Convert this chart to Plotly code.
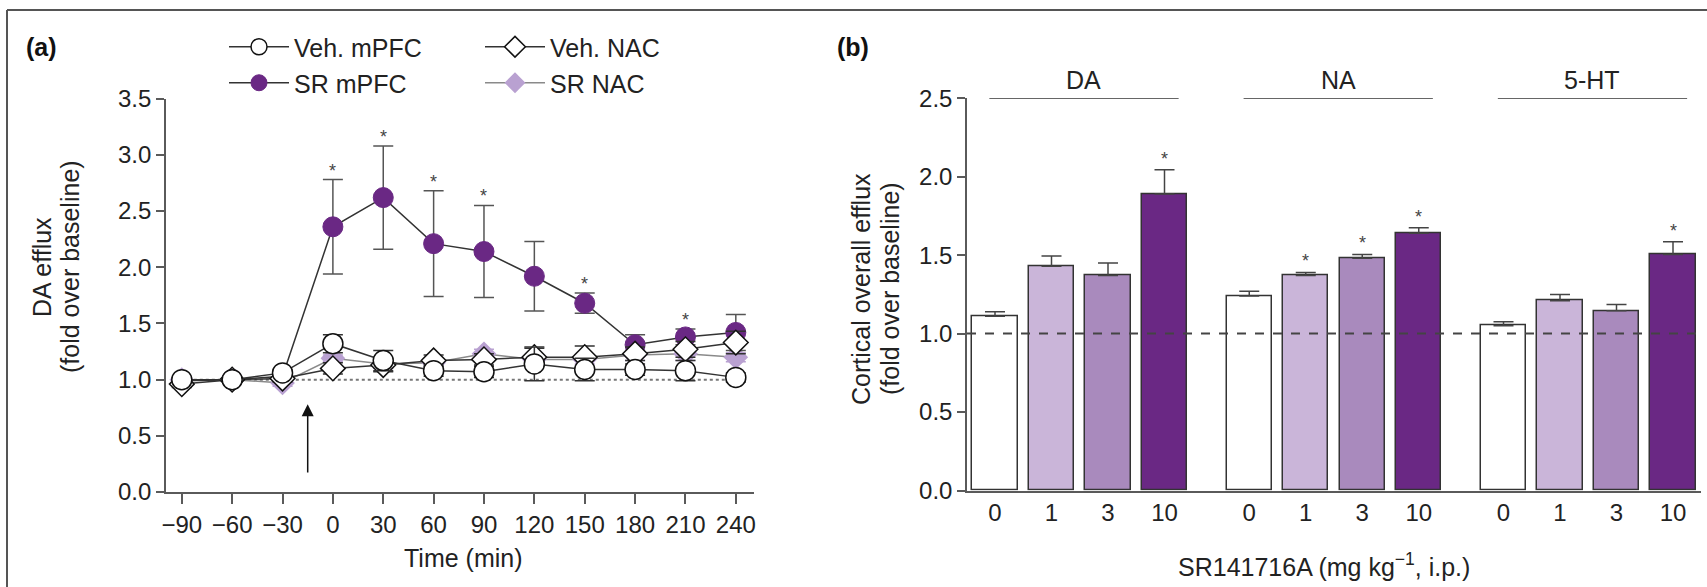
import plotly.graph_objects as go

# ---------------- data: panel (a) ----------------
times = [-90, -60, -30, 0, 30, 60, 90, 120, 150, 180, 210, 240]
veh_mpfc = [1.00, 1.00, 1.06, 1.32, 1.17, 1.08, 1.07, 1.14, 1.09, 1.09, 1.08, 1.02]
veh_mpfc_err = [0.02, 0.02, 0.03, 0.08, 0.09, 0.05, 0.05, 0.15, 0.10, 0.05, 0.09, 0.04]
veh_nac = [0.96, 1.00, 1.01, 1.10, 1.13, 1.17, 1.18, 1.20, 1.20, 1.23, 1.27, 1.33]
veh_nac_err = [0.03, 0.02, 0.03, 0.05, 0.06, 0.05, 0.05, 0.08, 0.10, 0.06, 0.07, 0.10]
sr_mpfc = [0.99, 1.00, 1.03, 2.36, 2.62, 2.21, 2.14, 1.92, 1.68, 1.31, 1.38, 1.42]
sr_mpfc_err = [0.02, 0.02, 0.03, 0.42, 0.46, 0.47, 0.41, 0.31, 0.09, 0.09, 0.07, 0.16]
sr_nac = [1.00, 1.00, 0.97, 1.19, 1.14, 1.15, 1.23, 1.18, 1.18, 1.22, 1.23, 1.20]
sr_nac_err = [0.02, 0.02, 0.03, 0.03, 0.04, 0.04, 0.04, 0.04, 0.04, 0.05, 0.06, 0.04]
sr_mpfc_sig = [False, False, False, True, True, True, True, False, True, False, True, False]
injection_time = -15
a_yticks = [0.0, 0.5, 1.0, 1.5, 2.0, 2.5, 3.0, 3.5]

# ---------------- data: panel (b) ----------------
doses = ["0", "1", "3", "10"]
transmitters = ["DA", "NA", "5-HT"]
da_vals = [1.11, 1.43, 1.37, 1.89]
da_err = [0.03, 0.065, 0.08, 0.155]
na_vals = [1.24, 1.37, 1.48, 1.64]
na_err = [0.03, 0.02, 0.025, 0.035]
ht_vals = [1.05, 1.21, 1.145, 1.505]
ht_err = [0.025, 0.04, 0.04, 0.08]
da_sig = [False, False, False, True]
na_sig = [False, True, True, True]
ht_sig = [False, False, False, True]
b_yticks = [0.0, 0.5, 1.0, 1.5, 2.0, 2.5]

W, H = 1707, 587
FONT = "Liberation Sans, Arial, sans-serif"
PURPLE = "#6a2884"
LAVENDER = "#b9a1d1"
bar_colors = ["#ffffff", "#cab5d9", "#a98abd", "#6a2884"]
AXC = "#5a5a5a"
TXT = "#222222"


def px(x):
    return x / W


def py(y):
    return 1 - y / H


fig = go.Figure()

# ---------------- panel (a) traces ----------------
series = [
    ("SR NAC", sr_nac, sr_nac_err, "diamond", LAVENDER, LAVENDER, 0, "#8a8a8a", LAVENDER, "legend2"),
    ("SR mPFC", sr_mpfc, sr_mpfc_err, "circle", PURPLE, PURPLE, 1, "#333333", "#555555", "legend2"),
    ("Veh. NAC", veh_nac, veh_nac_err, "diamond", "#ffffff", "#111111", 1.5, "#333333", "#333333", "legend"),
    ("Veh. mPFC", veh_mpfc, veh_mpfc_err, "circle", "#ffffff", "#111111", 1.5, "#333333", "#333333", "legend"),
]
legend_rank = {"Veh. mPFC": 1, "Veh. NAC": 2, "SR mPFC": 3, "SR NAC": 4}
for name, vals, errs, sym, fill, edge, ew, lc, ec, lg in series:
    fig.add_trace(go.Scatter(
        x=times, y=vals, name=name, mode="lines+markers",
        line=dict(color=lc, width=1.5),
        marker=dict(symbol=sym, size=20 if sym == "circle" else 19, color=fill,
                    line=dict(color=edge, width=ew)),
        error_y=dict(type="data", array=errs, visible=True, color=ec, thickness=1.5, width=10),
        xaxis="x", yaxis="y", legend=lg, legendrank=legend_rank[name],
    ))

# ---------------- panel (b) traces ----------------
group_vals = [da_vals, na_vals, ht_vals]
group_err = [da_err, na_err, ht_err]
group_sig = [da_sig, na_sig, ht_sig]
GROUP_STEP = 4.5
for i, d in enumerate(doses):
    xs = [g * GROUP_STEP + i for g in range(len(transmitters))]
    ys = [group_vals[g][i] for g in range(len(transmitters))]
    es = [group_err[g][i] for g in range(len(transmitters))]
    fig.add_trace(go.Bar(
        x=xs, y=ys, width=0.805, name=d + " mg/kg", showlegend=False,
        marker=dict(color=bar_colors[i], line=dict(color="#333333", width=1.5)),
        error_y=dict(type="data", symmetric=False, array=es, arrayminus=[0] * len(es),
                     color="#444444", thickness=1.5, width=10),
        xaxis="x2", yaxis="y2",
    ))

annotations = []
shapes = []

# stars panel (a)
for t, v, e, s in zip(times, sr_mpfc, sr_mpfc_err, sr_mpfc_sig):
    if s:
        annotations.append(dict(x=t, y=v + e, xref="x", yref="y", text="*", showarrow=False,
                                yanchor="middle", yshift=9, font=dict(size=18, color="#444444", family=FONT)))
# stars panel (b)
for g in range(len(transmitters)):
    for i in range(len(doses)):
        if group_sig[g][i]:
            annotations.append(dict(x=g * GROUP_STEP + i, y=group_vals[g][i] + group_err[g][i],
                                    xref="x2", yref="y2", text="*", showarrow=False,
                                    yanchor="middle", yshift=11,
                                    font=dict(size=18, color="#444444", family=FONT)))

# group labels and lines panel (b)
for g, name in enumerate(transmitters):
    x0 = g * GROUP_STEP - 0.1
    x1 = g * GROUP_STEP + 3.25
    shapes.append(dict(type="line", xref="x2", yref="y2", x0=x0, x1=x1, y0=2.5, y1=2.5,
                       line=dict(color="#333333", width=1.5)))
    annotations.append(dict(x=(x0 + x1) / 2, y=2.5, xref="x2", yref="y2", text=name, showarrow=False,
                            yanchor="bottom", yshift=2, font=dict(size=25, color=TXT, family=FONT)))

# baseline lines
shapes.append(dict(type="line", xref="x", yref="y", x0=times[0], x1=times[-1], y0=1, y1=1,
                   line=dict(color="#777777", width=2, dash="dot"), layer="below"))
shapes.append(dict(type="line", xref="x2 domain", yref="y2", x0=0, x1=1, y0=1, y1=1,
                   line=dict(color="#444444", width=2, dash="dash"), layer="above"))

# injection arrow panel (a)
annotations.append(dict(x=injection_time, y=0.78, ax=injection_time, ay=0.16, xref="x", yref="y",
                        axref="x", ayref="y", text="", showarrow=True, arrowhead=2, arrowsize=1.6,
                        arrowwidth=1.5, arrowcolor="#111111"))

# axis titles
TF = dict(size=25, color=TXT, family=FONT)
annotations += [
    dict(x=px(42), y=py(267), xref="paper", yref="paper", text="DA efflux", textangle=-90,
         showarrow=False, font=TF, xanchor="center", yanchor="middle"),
    dict(x=px(70), y=py(267), xref="paper", yref="paper", text="(fold over baseline)", textangle=-90,
         showarrow=False, font=TF, xanchor="center", yanchor="middle"),
    dict(x=px(861), y=py(289), xref="paper", yref="paper", text="Cortical overall efflux", textangle=-90,
         showarrow=False, font=TF, xanchor="center", yanchor="middle"),
    dict(x=px(890), y=py(289), xref="paper", yref="paper", text="(fold over baseline)", textangle=-90,
         showarrow=False, font=TF, xanchor="center", yanchor="middle"),
    dict(x=px(464), y=py(558), xref="paper", yref="paper", text="Time (min)",
         showarrow=False, font=TF, xanchor="center", yanchor="middle"),
    dict(x=px(1324), y=py(565), xref="paper", yref="paper", text="SR141716A (mg kg<sup>−1</sup>, i.p.)",
         showarrow=False, font=TF, xanchor="center", yanchor="middle"),
    dict(x=px(24), y=py(47), xref="paper", yref="paper", text="<b>(a)</b>",
         showarrow=False, font=dict(size=25, color="#111111", family=FONT), xanchor="left", yanchor="middle"),
    dict(x=px(835), y=py(47), xref="paper", yref="paper", text="<b>(b)</b>",
         showarrow=False, font=dict(size=25, color="#111111", family=FONT), xanchor="left", yanchor="middle"),
]

# outer frame (top and left)
shapes += [
    dict(type="line", xref="paper", yref="paper", x0=px(7), x1=1, y0=py(10), y1=py(10),
         line=dict(color="#555555", width=2)),
    dict(type="line", xref="paper", yref="paper", x0=px(7), x1=px(7), y0=0, y1=py(10),
         line=dict(color="#555555", width=2)),
]

tickfont = dict(size=24, color=TXT, family=FONT)
xmin_a = times[0] - (181.8 - 165.8) / 1.68
xmax_a = times[-1] + (754 - 735.8) / 1.68

fig.update_layout(
    width=W, height=H,
    margin=dict(l=0, r=0, t=0, b=0, pad=0, autoexpand=False),
    paper_bgcolor="white", plot_bgcolor="white",
    font=dict(family=FONT, color=TXT),
    bargap=0,
    xaxis=dict(domain=[px(165.8), px(754)], range=[xmin_a, xmax_a], tickvals=times,
               showline=True, linecolor=AXC, linewidth=1.5, ticks="outside", ticklen=10,
               tickcolor=AXC, tickwidth=1.5, tickfont=tickfont, showgrid=False, zeroline=False,
               anchor="y", automargin=False),
    yaxis=dict(domain=[1 - 492 / H, 1 - 98.7 / H], range=[0, 3.5], tickvals=a_yticks,
               tickformat=".1f", showline=True, linecolor=AXC, linewidth=1.5, ticks="outside",
               ticklen=8, tickcolor=AXC, tickwidth=1.5, tickfont=tickfont, showgrid=False,
               zeroline=False, anchor="x", automargin=False),
    xaxis2=dict(domain=[px(967), px(1701)], range=[-0.4956, 12.4956],
                tickvals=[g * GROUP_STEP + i for g in range(3) for i in range(4)],
                ticktext=doses * 3, showline=True, linecolor=AXC, linewidth=1.5, ticks="",
                tickfont=tickfont, showgrid=False, zeroline=False, anchor="y2", automargin=False),
    yaxis2=dict(domain=[1 - 490.5 / H, 1 - 98.3 / H], range=[0, 2.5], tickvals=b_yticks,
                tickformat=".1f", showline=True, linecolor=AXC, linewidth=1.5, ticks="outside",
                ticklen=8, tickcolor=AXC, tickwidth=1.5, tickfont=tickfont, showgrid=False,
                zeroline=False, anchor="x2", automargin=False),
    legend=dict(orientation="h", x=px(224), xanchor="left", y=py(47), yanchor="middle",
                font=dict(size=25, color=TXT, family=FONT), bgcolor="rgba(0,0,0,0)",
                itemwidth=60, entrywidth=181, traceorder="normal"),
    legend2=dict(orientation="h", x=px(224), xanchor="left", y=py(83), yanchor="middle",
                 font=dict(size=25, color=TXT, family=FONT), bgcolor="rgba(0,0,0,0)",
                 itemwidth=60, entrywidth=181, traceorder="normal"),
    annotations=annotations,
    shapes=shapes,
)

fig.write_html(
    "out.html",
    config={"displayModeBar": False},
    post_script="document.body.style.margin='0';document.body.style.padding='0';"
                "document.body.style.overflow='hidden';",
)
